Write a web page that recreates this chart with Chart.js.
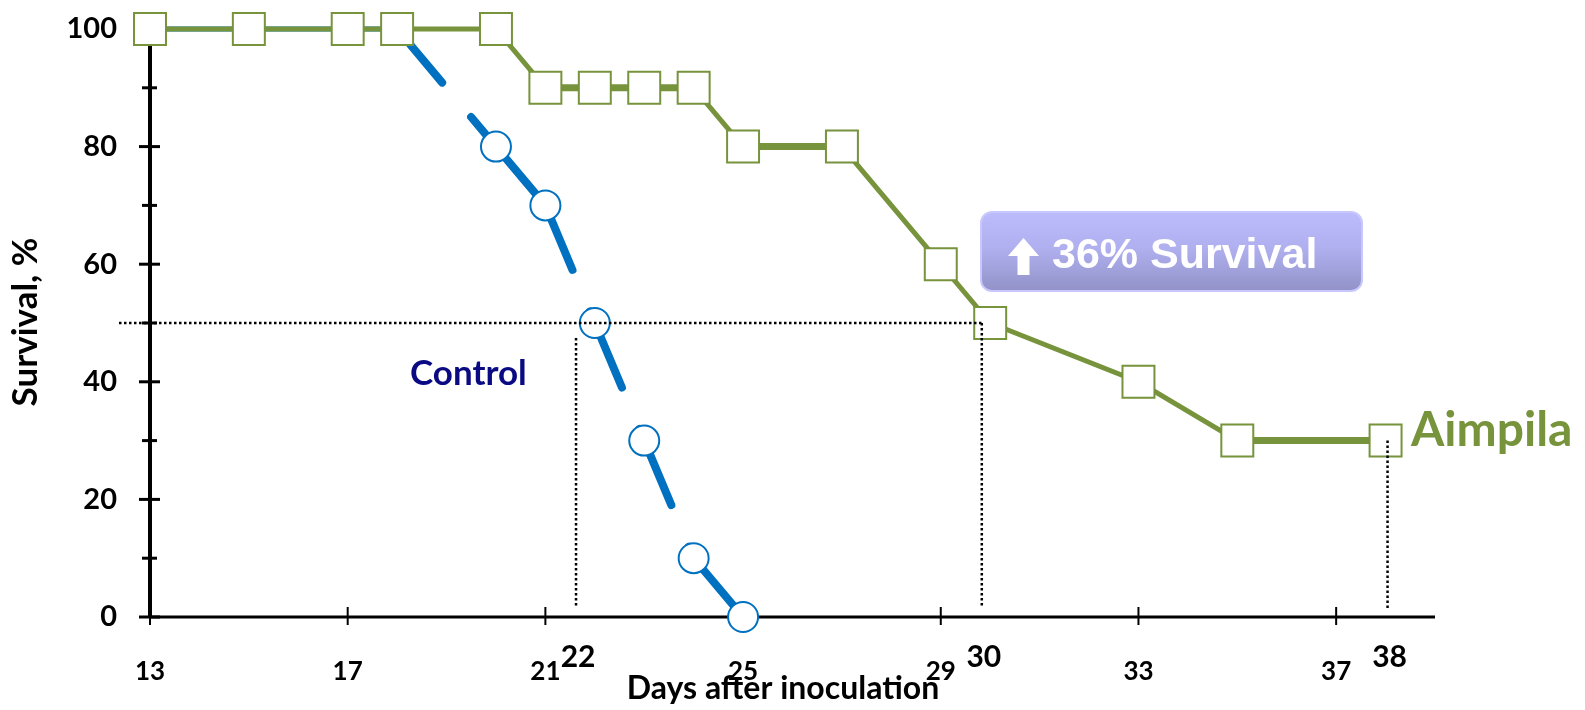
<!DOCTYPE html>
<html>
<head>
<meta charset="utf-8">
<script src="https://cdn.jsdelivr.net/npm/chart.js@4.4.1/dist/chart.umd.min.js"></script>
<style>
  html, body { margin: 0; padding: 0; background: #fff; }
  canvas { display: block; }
</style>
</head>
<body>
<canvas id="survival-chart" width="1585" height="710"></canvas>
<script>
// Survival data
const aimpilaDays = [13, 15, 17, 18, 20, 21, 22, 23, 24, 25, 27, 29, 30, 33, 35, 38];
const aimpilaSurvival = [100, 100, 100, 100, 100, 90, 90, 90, 90, 80, 80, 60, 50, 40, 30, 30];
const controlDays = [13, 15, 17, 18, 20, 21, 22, 23, 24, 25];
const controlSurvival = [100, 100, 100, 100, 80, 70, 50, 30, 10, 0];

// Axis ticks
const xTickDays = [13, 17, 21, 25, 29, 33, 37];
const yTickValues = [0, 20, 40, 60, 80, 100];
const yMinorValues = [10, 30, 50, 70, 90];

// Median survival markers (dotted guides)
const medianDays = [21.62, 29.83, 38.04];
const medianLabels = ["22", "30", "38"];
const medianLevels = [50, 50, 30];

const GREEN = "#77933C";
const BLUE = "#0070C0";
const NAVY = "#0a0a82";
const FONT = "Lato, 'Open Sans', sans-serif";

const toPoints = (xs, ys) => xs.map((x, i) => ({ x: x, y: ys[i] }));

// Axis lines and crossing tick marks, drawn under the series
const axesPlugin = {
  id: "axes",
  beforeDatasetsDraw(chart) {
    const { ctx, chartArea, scales } = chart;
    const x = scales.x, y = scales.y;
    ctx.save();
    ctx.strokeStyle = "#000";

    // y axis
    ctx.lineWidth = 4;
    ctx.beginPath();
    ctx.moveTo(chartArea.left, chartArea.top);
    ctx.lineTo(chartArea.left, chartArea.bottom);
    ctx.stroke();

    ctx.lineWidth = 3;
    yTickValues.forEach((v) => {
      const py = y.getPixelForValue(v);
      ctx.beginPath();
      ctx.moveTo(chartArea.left - 11, py);
      ctx.lineTo(chartArea.left + 10, py);
      ctx.stroke();
    });
    yMinorValues.forEach((v) => {
      const py = y.getPixelForValue(v);
      ctx.beginPath();
      ctx.moveTo(chartArea.left - 8, py);
      ctx.lineTo(chartArea.left + 7, py);
      ctx.stroke();
    });

    // x axis
    ctx.lineWidth = 3;
    ctx.beginPath();
    ctx.moveTo(chartArea.left, chartArea.bottom);
    ctx.lineTo(chartArea.right, chartArea.bottom);
    ctx.stroke();

    ctx.lineWidth = 2;
    xTickDays.forEach((d) => {
      const px = x.getPixelForValue(d);
      ctx.beginPath();
      ctx.moveTo(px, chartArea.bottom - 10);
      ctx.lineTo(px, chartArea.bottom + 8);
      ctx.stroke();
    });
    ctx.restore();
  },
};

// Dotted guides, callout box and text labels, drawn over the series
const notesPlugin = {
  id: "notes",
  afterDatasetsDraw(chart) {
    const { ctx, chartArea, scales } = chart;
    const x = scales.x, y = scales.y;
    ctx.save();

    // dotted guides
    ctx.strokeStyle = "#000";
    ctx.lineWidth = 2.5;
    ctx.setLineDash([2.5, 2.5]);
    const y50 = y.getPixelForValue(50);
    ctx.beginPath();
    ctx.moveTo(119, y50);
    ctx.lineTo(x.getPixelForValue(medianDays[1]), y50);
    ctx.stroke();
    medianDays.forEach((d, i) => {
      const px = x.getPixelForValue(d);
      let top = y.getPixelForValue(medianLevels[i]);
      if (i === 0) top += 15;
      ctx.beginPath();
      ctx.moveTo(px, top);
      ctx.lineTo(px, chartArea.bottom - 9);
      ctx.stroke();
    });
    ctx.setLineDash([]);

    // median day labels
    ctx.fillStyle = "#000";
    ctx.font = "bold 30px " + FONT;
    ctx.textAlign = "center";
    ctx.textBaseline = "alphabetic";
    medianDays.forEach((d, i) => {
      ctx.fillText(medianLabels[i], x.getPixelForValue(d) + 2, 667);
    });

    // callout box
    const bx = 981, by = 212, bw = 381, bh = 79;
    const grad = ctx.createLinearGradient(0, by, 0, by + bh);
    grad.addColorStop(0, "#bcbcfd");
    grad.addColorStop(0.45, "#b0b0f0");
    grad.addColorStop(1, "#9292c8");
    ctx.fillStyle = grad;
    ctx.strokeStyle = "#c8c8ff";
    ctx.lineWidth = 2;
    ctx.beginPath();
    ctx.roundRect(bx, by, bw, bh, 11);
    ctx.fill();
    ctx.stroke();

    // up arrow
    ctx.fillStyle = "#fff";
    ctx.beginPath();
    ctx.moveTo(1023.5, 238);
    ctx.lineTo(1039, 256);
    ctx.lineTo(1029.5, 256);
    ctx.lineTo(1029.5, 275);
    ctx.lineTo(1017.5, 275);
    ctx.lineTo(1017.5, 256);
    ctx.lineTo(1008, 256);
    ctx.closePath();
    ctx.fill();

    ctx.font = "bold 43px 'Liberation Sans', Arial, sans-serif";
    ctx.textAlign = "left";
    ctx.fillText("36% Survival", 1052, 268);

    // series labels
    ctx.font = "bold 35px " + FONT;
    ctx.fillStyle = NAVY;
    ctx.fillText("Control", 410, 385);

    ctx.font = "bold 48px " + FONT;
    ctx.fillStyle = GREEN;
    ctx.fillText("Aimpila", 1411, 446);

    // axis titles
    ctx.fillStyle = "#000";
    ctx.font = "bold 32px " + FONT;
    ctx.textAlign = "center";
    ctx.fillText("Days after inoculation", 783, 699);

    ctx.translate(37, 322);
    ctx.rotate(-Math.PI / 2);
    ctx.font = "bold 35px " + FONT;
    ctx.fillText("Survival, %", 0, 0);
    ctx.restore();
  },
};

new Chart(document.getElementById("survival-chart").getContext("2d"), {
  type: "line",
  data: {
    datasets: [
      {
        label: "Aimpila",
        data: toPoints(aimpilaDays, aimpilaSurvival),
        borderColor: GREEN,
        borderWidth: 5,
        pointStyle: "rect",
        pointRadius: 22.6,
        pointBorderWidth: 2,
        pointBorderColor: GREEN,
        pointBackgroundColor: "#fff",
        clip: false,
        segment: {
          // flat steps below 100 look heavier in the original
          borderWidth: (c) =>
            c.p0.parsed.y === c.p1.parsed.y && c.p0.parsed.y < 100 ? 7 : 5,
        },
      },
      {
        label: "Control",
        data: toPoints(controlDays, controlSurvival),
        borderColor: BLUE,
        borderWidth: 8,
        borderCapStyle: "round",
        pointStyle: "circle",
        pointRadius: 15,
        pointBorderWidth: 2,
        pointBorderColor: BLUE,
        pointBackgroundColor: "#fff",
        clip: false,
        segment: {
          // dash pattern restarts on every segment, like the original
          borderWidth: (c) => (c.p0.parsed.y === c.p1.parsed.y ? 5 : 8),
          borderDash: (c) => (c.p0.parsed.y === c.p1.parsed.y ? [] : [70, 45]),
          borderDashOffset: (c) => c.p0DataIndex * 0.001,
        },
      },
    ],
  },
  options: {
    responsive: false,
    animation: false,
    events: [],
    layout: {
      autoPadding: false,
      padding: { top: 29, right: 150, left: 0, bottom: 0 },
    },
    plugins: {
      legend: { display: false },
      tooltip: { enabled: false },
    },
    scales: {
      x: {
        type: "linear",
        min: 13,
        max: 39,
        grid: { display: false, drawTicks: false },
        border: { display: false },
        afterBuildTicks: (scale) => {
          scale.ticks = xTickDays.map((v) => ({ value: v }));
        },
        afterFit: (scale) => {
          scale.height = 93;
          scale.paddingLeft = 0;
          scale.paddingRight = 0;
        },
        ticks: {
          padding: 39,
          color: "#000",
          font: { family: FONT, size: 26, weight: "bold" },
          maxRotation: 0,
          autoSkip: false,
        },
      },
      y: {
        min: 0,
        max: 100,
        grid: { display: false, drawTicks: false },
        border: { display: false },
        afterBuildTicks: (scale) => {
          scale.ticks = yTickValues.map((v) => ({ value: v }));
        },
        afterFit: (scale) => {
          // label padding would otherwise push the plot top down
          scale.width = 150;
          scale.paddingTop = 0;
          scale.paddingBottom = 0;
        },
        ticks: {
          padding: 33,
          color: "#000",
          font: { family: FONT, size: 29, weight: "bold" },
        },
      },
    },
  },
  plugins: [axesPlugin, notesPlugin],
});
</script>
</body>
</html>
